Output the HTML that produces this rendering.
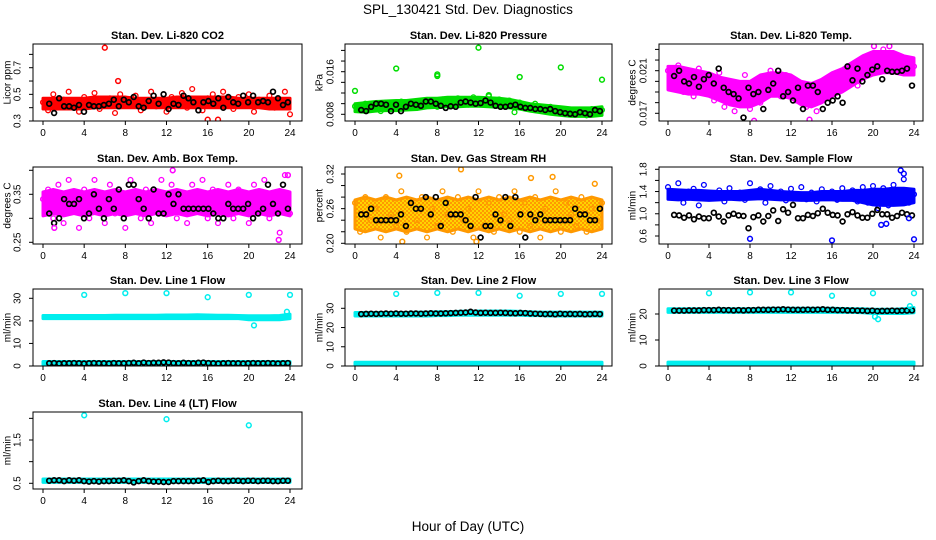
<!DOCTYPE html>
<html><head><meta charset="utf-8">
<style>
html,body{margin:0;padding:0;background:#fff;}
svg{display:block;font-family:"Liberation Sans",sans-serif;}
</style></head>
<body>
<svg id="chart" width="936" height="540" viewBox="0 0 936 540" xmlns="http://www.w3.org/2000/svg">
<defs>
<pattern id="rhpat" patternUnits="userSpaceOnUse" width="4" height="4">
<rect width="4" height="4" fill="#ffd400"/>
<circle cx="1" cy="1" r="1" fill="#ff8800"/>
<circle cx="3" cy="3" r="1" fill="#ff8800"/>
</pattern>
</defs>
<rect width="936" height="540" fill="#fff"/>
<text x="468" y="14" text-anchor="middle" font-size="13.5">SPL_130421  Std. Dev. Diagnostics</text>
<text x="468" y="531" text-anchor="middle" font-size="13.5">Hour of Day (UTC)</text>
</svg>
<script>
// ---------- data ----------
const xTicks = [0,4,8,12,16,20,24];

const co2Lo = [0.39,0.39,0.39,0.39,0.39,0.40,0.40,0.40,0.40,0.40,0.40,0.40,0.40,0.40,0.40,0.40,0.40,0.40,0.40,0.40,0.40,0.40,0.39,0.39,0.39];
const co2Hi = [0.47,0.47,0.47,0.47,0.47,0.48,0.48,0.48,0.48,0.47,0.47,0.47,0.47,0.48,0.48,0.48,0.48,0.48,0.48,0.47,0.47,0.47,0.47,0.47,0.47];
const co2Pts = [0.44,0.38,0.50,0.42,0.46,0.52,0.40,0.37,0.48,0.44,0.51,0.39,0.43,0.47,0.36,0.50,0.42,0.45,0.49,0.38,0.44,0.52,0.41,0.46,0.37,0.48,0.43,0.51,0.40,0.54,0.44,0.38,0.47,0.50,0.42,0.52,0.45,0.39,0.48,0.43,0.50,0.37,0.46,0.44,0.49,0.40,0.45,0.52,0.35];
const co2Black = [0.43,0.36,0.47,0.41,0.41,0.40,0.42,0.37,0.42,0.41,0.41,0.42,0.43,0.46,0.41,0.46,0.44,0.48,0.41,0.40,0.45,0.49,0.43,0.50,0.39,0.43,0.42,0.49,0.47,0.44,0.38,0.44,0.45,0.43,0.47,0.40,0.48,0.44,0.43,0.49,0.44,0.49,0.44,0.45,0.44,0.52,0.47,0.42,0.44];
const co2OutH = [6,7.3,16,17];
const co2OutV = [0.85,0.60,0.31,0.31];

const presLo = [0.0085,0.0084,0.0086,0.0087,0.0087,0.0088,0.0089,0.0092,0.0093,0.0094,0.0094,0.0095,0.0095,0.0094,0.0093,0.0092,0.0090,0.0086,0.0083,0.0080,0.0078,0.0076,0.0076,0.0076,0.0078];
const presHi = [0.0100,0.0102,0.0104,0.0105,0.0106,0.0106,0.0108,0.0110,0.0110,0.0112,0.0112,0.0112,0.0112,0.0111,0.0110,0.0108,0.0104,0.0100,0.0098,0.0096,0.0094,0.0092,0.0092,0.0092,0.0094];
const presPts = [0.0095,0.0088,0.0100,0.0092,0.0098,0.0086,0.0102,0.0094,0.0090,0.0104,0.0096,0.0100,0.0092,0.0106,0.0098,0.0102,0.0094,0.0108,0.0100,0.0096,0.0110,0.0104,0.0098,0.0112,0.0106,0.0100,0.0114,0.0104,0.0108,0.0098,0.0106,0.0084,0.0102,0.0096,0.0090,0.0100,0.0092,0.0088,0.0094,0.0086,0.0090,0.0082,0.0088,0.0080,0.0086,0.0078,0.0090,0.0084,0.0088];
const presBlack = [0.0088,0.0086,0.0094,0.0100,0.0100,0.0098,0.0086,0.0098,0.0086,0.0094,0.0100,0.0098,0.0096,0.0104,0.0104,0.0100,0.0096,0.0092,0.0095,0.0094,0.0102,0.0104,0.0102,0.0100,0.0101,0.0106,0.0102,0.0096,0.0094,0.0094,0.0096,0.0098,0.0094,0.0092,0.0092,0.0090,0.0090,0.0088,0.0090,0.0086,0.0084,0.0082,0.0081,0.0080,0.0084,0.0082,0.0080,0.0088,0.0086];
const presOutH = [0,4,8,8,12,13,16,20,24];
const presOutV = [0.0124,0.0166,0.0155,0.0152,0.0205,0.0116,0.0150,0.0168,0.0145];

const tempLo = [0.0192,0.0190,0.0188,0.0188,0.0186,0.0182,0.0178,0.0176,0.0176,0.0180,0.0186,0.0186,0.0184,0.0178,0.0176,0.0180,0.0186,0.0190,0.0196,0.0202,0.0206,0.0208,0.0208,0.0206,0.0206];
const tempHi = [0.0214,0.0214,0.0212,0.0210,0.0208,0.0204,0.0202,0.0200,0.0200,0.0206,0.0208,0.0208,0.0206,0.0200,0.0198,0.0202,0.0208,0.0212,0.0218,0.0224,0.0228,0.0228,0.0228,0.0224,0.0222];
const tempPts = [0.0210,0.0198,0.0215,0.0190,0.0206,0.0186,0.0212,0.0196,0.0202,0.0182,0.0208,0.0176,0.0200,0.0172,0.0186,0.0206,0.0174,0.0196,0.0180,0.0190,0.0210,0.0196,0.0186,0.0206,0.0200,0.0182,0.0192,0.0176,0.0188,0.0172,0.0184,0.0196,0.0190,0.0204,0.0210,0.0200,0.0214,0.0196,0.0220,0.0208,0.0226,0.0214,0.0230,0.0220,0.0226,0.0212,0.0222,0.0218,0.0214];
const tempBlack = [0.0205,0.0210,0.0200,0.0198,0.0204,0.0195,0.0202,0.0206,0.0198,0.0212,0.0194,0.0190,0.0188,0.0184,0.0166,0.0194,0.0188,0.0190,0.0174,0.0192,0.0198,0.0210,0.0186,0.0190,0.0182,0.0194,0.0174,0.0196,0.0196,0.0190,0.0174,0.0180,0.0182,0.0186,0.0180,0.0214,0.0201,0.0212,0.0200,0.0206,0.0211,0.0214,0.0202,0.0210,0.0209,0.0209,0.0210,0.0212,0.0196];
const tempOutH = [8.4,13.8,20.1,21.6];
const tempOutV = [0.0163,0.0164,0.0233,0.0233];

const ambLo = [0.305,0.31,0.305,0.31,0.305,0.31,0.305,0.31,0.305,0.31,0.305,0.31,0.305,0.31,0.305,0.31,0.305,0.31,0.305,0.31,0.305,0.31,0.305,0.31,0.305];
const ambHi = [0.355,0.36,0.355,0.36,0.355,0.36,0.355,0.36,0.355,0.36,0.355,0.36,0.355,0.36,0.355,0.36,0.355,0.36,0.355,0.36,0.355,0.36,0.355,0.36,0.355];
const ambPts = [0.34,0.36,0.30,0.37,0.29,0.38,0.33,0.28,0.36,0.30,0.38,0.34,0.29,0.37,0.31,0.35,0.28,0.38,0.33,0.30,0.36,0.29,0.34,0.38,0.31,0.37,0.30,0.35,0.29,0.37,0.32,0.38,0.30,0.36,0.29,0.34,0.37,0.30,0.36,0.33,0.29,0.37,0.31,0.38,0.30,0.34,0.27,0.39,0.31];
const ambBlack = [0.31,0.29,0.30,0.34,0.33,0.33,0.34,0.30,0.31,0.35,0.32,0.30,0.34,0.32,0.36,0.30,0.37,0.37,0.34,0.32,0.30,0.36,0.31,0.31,0.35,0.33,0.35,0.32,0.32,0.32,0.32,0.32,0.32,0.31,0.30,0.30,0.33,0.32,0.32,0.32,0.33,0.30,0.31,0.32,0.37,0.33,0.31,0.37,0.32];
const ambOutH = [12.6,22.9,23.8,1.1];
const ambOutV = [0.40,0.255,0.39,0.28];

const rhLo = [0.225,0.22,0.225,0.22,0.225,0.22,0.225,0.22,0.225,0.22,0.225,0.22,0.225,0.22,0.225,0.22,0.225,0.22,0.225,0.22,0.225,0.22,0.225,0.22,0.225];
const rhHi = [0.275,0.28,0.275,0.28,0.275,0.28,0.275,0.28,0.275,0.28,0.275,0.28,0.275,0.28,0.275,0.28,0.275,0.28,0.275,0.28,0.275,0.28,0.275,0.28,0.275];
const rhPts = [0.27,0.22,0.28,0.24,0.26,0.21,0.28,0.25,0.23,0.29,0.22,0.27,0.24,0.28,0.21,0.26,0.23,0.29,0.25,0.22,0.28,0.24,0.26,0.21,0.29,0.23,0.27,0.22,0.28,0.25,0.24,0.29,0.22,0.27,0.23,0.28,0.21,0.26,0.24,0.29,0.22,0.27,0.25,0.23,0.28,0.22,0.26,0.24,0.27];
const rhBlack = [0.25,0.25,0.26,0.24,0.24,0.24,0.24,0.24,0.25,0.23,0.27,0.26,0.26,0.28,0.25,0.28,0.23,0.27,0.25,0.25,0.25,0.24,0.23,0.28,0.21,0.23,0.23,0.25,0.24,0.28,0.23,0.28,0.25,0.21,0.25,0.24,0.25,0.24,0.24,0.24,0.24,0.24,0.24,0.26,0.25,0.25,0.24,0.24,0.26];
const rhOutH = [4.3,4.6,10.3,11.8,17.1,19.2,23.3];
const rhOutV = [0.317,0.203,0.328,0.203,0.313,0.315,0.303];

const flowLo = [1.26,1.25,1.26,1.25,1.24,1.25,1.26,1.25,1.26,1.27,1.26,1.25,1.25,1.24,1.24,1.25,1.25,1.24,1.24,1.20,1.16,1.15,1.15,1.16,1.20];
const flowHi = [1.44,1.43,1.42,1.42,1.41,1.40,1.40,1.40,1.42,1.44,1.42,1.40,1.39,1.38,1.38,1.40,1.40,1.40,1.42,1.42,1.44,1.44,1.46,1.46,1.44];
const flowPts = [1.48,1.30,1.55,1.20,1.40,1.45,1.15,1.52,1.35,1.28,1.42,1.22,1.46,1.30,1.38,1.25,1.55,1.32,1.44,1.20,1.50,1.30,1.40,1.24,1.45,1.32,1.48,1.26,1.38,1.22,1.44,1.30,1.40,1.25,1.46,1.28,1.42,1.22,1.48,1.20,1.50,1.10,1.46,1.15,1.52,1.30,1.62,1.20,1.35];
const flowBlack = [0.98,0.97,0.93,0.97,0.90,0.95,0.92,0.92,1.02,0.95,0.86,0.97,1.00,0.97,0.96,0.74,0.94,0.97,0.86,0.96,1.06,0.87,1.08,1.02,1.16,0.92,0.92,0.98,0.96,1.01,1.09,1.02,0.98,0.97,0.86,0.99,1.03,0.97,0.93,0.93,1.00,1.07,0.99,0.99,0.93,0.96,1.02,0.99,0.97];
const flowOutH = [8,16,24,22.7,23,20.8,21.3,23.5];
const flowOutV = [0.55,0.52,0.54,1.78,1.72,0.80,0.82,0.92];

const l1Lo = [21,21,21,21,21,21,21,21,21,21,21,21,21,21,21,21,21,21,21,21,20.5,20.5,20.5,20.5,21];
const l1Hi = [22.4,22.4,22.4,22.4,22.4,22.4,22.4,22.5,22.5,22.5,22.5,22.5,22.6,22.6,22.6,22.7,22.6,22.5,22.5,22.4,22.3,22.3,22.3,22.4,23];
const l1LowLo = [0.6,0.6,0.6,0.6,0.6,0.6,0.6,0.6,0.6,0.6,0.6,0.6,0.6,0.6,0.6,0.6,0.6,0.6,0.6,0.6,0.6,0.6,0.6,0.6,0.6];
const l1LowHi = [2,2,2,2,2,2,2,2,2,2,2,2,2,2,2,2,2,2,2,2,2,2,2,2,2];
const l1Black = [1.2,1.3,1.1,1.2,1.2,1.3,1.2,1.1,1.2,1.3,1.2,1.2,1.1,1.3,1.2,1.2,1.3,1.4,1.2,1.5,1.3,1.4,1.4,1.6,1.5,1.3,1.2,1.4,1.3,1.2,1.4,1.5,1.3,1.2,1.1,1.2,1.3,1.2,1.2,1.1,1.2,1.3,1.2,1.2,1.3,1.2,1.1,1.2,1.3];
const l1OutH = [4,8,12,16,20,24,20.5,23.7];
const l1OutV = [31.5,32.3,32.3,30.5,31.5,31.5,18,24];

const l2Lo = [26,26,26,26,26,26,26,26,26.2,26.2,26.4,26.4,26.4,26.4,26.4,26.4,26.4,26.2,26.2,26,26,26,26,26,26];
const l2Hi = [27.8,27.8,27.8,27.8,27.8,27.8,28,28,28.2,28.2,28.4,28.6,28.6,28.6,28.6,28.6,28.4,28.2,28,28,28,28,28,28,28];
const l2LowLo = [0.6,0.6,0.6,0.6,0.6,0.6,0.6,0.6,0.6,0.6,0.6,0.6,0.6,0.6,0.6,0.6,0.6,0.6,0.6,0.6,0.6,0.6,0.6,0.6,0.6];
const l2LowHi = [2,2,2,2,2,2,2,2,2,2,2,2,2,2,2,2,2,2,2,2,2,2,2,2,2];
const l2Black = [27,27.1,27.2,27.1,27.2,27.3,27.2,27.3,27.2,27.2,27.3,27.3,27.2,27.3,27.4,27.3,27.3,27.4,27.5,27.6,27.7,27.8,28.2,27.8,27.6,27.7,27.6,27.6,27.7,27.6,27.5,27.4,27.6,27.5,27.3,27.2,27.1,27,27.1,26.9,27.2,27,27.1,27,27.1,26.9,27,27.1,27];
const l2OutH = [4,8,12,16,20,24];
const l2OutV = [37.5,38,38,36.5,37.5,37.5];

const l3Lo = [20.6,20.6,20.6,20.6,20.6,20.6,20.6,20.6,20.6,20.6,20.6,20.6,20.6,20.6,20.6,20.6,20.6,20.6,20.6,20.5,20.2,20.2,20.2,20.2,20.5];
const l3Hi = [22,22,22,22,22,22,22,22,22,22.1,22.2,22.2,22.2,22.2,22.2,22.2,22.2,22.1,22,22,21.8,21.8,21.8,22,22.5];
const l3LowLo = [0.5,0.5,0.5,0.5,0.5,0.5,0.5,0.5,0.5,0.5,0.5,0.5,0.5,0.5,0.5,0.5,0.5,0.5,0.5,0.5,0.5,0.5,0.5,0.5,0.5];
const l3LowHi = [1.5,1.5,1.5,1.5,1.5,1.5,1.5,1.5,1.5,1.5,1.5,1.5,1.5,1.5,1.5,1.5,1.5,1.5,1.5,1.5,1.5,1.5,1.5,1.5,1.5];
const l3Black = [21.3,21.3,21.3,21.4,21.4,21.4,21.5,21.5,21.5,21.6,21.5,21.5,21.4,21.5,21.4,21.5,21.5,21.6,21.6,21.6,21.7,21.7,21.8,21.7,21.6,21.6,21.6,21.7,21.6,21.7,21.8,21.6,21.6,21.5,21.5,21.4,21.4,21.3,21.3,21.2,21.3,21.1,21.2,21.2,21.3,21.2,21.3,21.3,21.4];
const l3OutH = [4,8,12,16,20,24,20.2,20.5,23.6];
const l3OutV = [28,28.3,28.3,27,28,28,19,18,23];

const l4Lo = [0.52,0.52,0.52,0.52,0.52,0.52,0.52,0.52,0.52,0.52,0.52,0.52,0.52,0.52,0.52,0.52,0.52,0.52,0.52,0.52,0.52,0.52,0.52,0.52,0.52];
const l4Hi = [0.60,0.60,0.60,0.60,0.60,0.60,0.60,0.60,0.60,0.60,0.60,0.60,0.60,0.60,0.60,0.60,0.60,0.60,0.60,0.60,0.60,0.60,0.60,0.60,0.60];
const l4Black = [0.56,0.57,0.57,0.55,0.57,0.56,0.57,0.55,0.54,0.55,0.54,0.55,0.55,0.56,0.56,0.57,0.55,0.52,0.55,0.57,0.55,0.54,0.54,0.53,0.53,0.55,0.55,0.55,0.55,0.55,0.56,0.57,0.53,0.55,0.56,0.55,0.55,0.56,0.56,0.55,0.56,0.56,0.55,0.56,0.56,0.55,0.55,0.56,0.56];
const l4OutH = [4,12,20];
const l4OutV = [2.07,1.98,1.84];

// ---------- layout ----------
const cols = [{l:33,r:302,x0:43,x24:290,lab:17,tit:7},{l:345,r:612,x0:355,x24:602,lab:330,tit:319},{l:659,r:923,x0:668,x24:914,lab:643,tit:632}];
const rows = [{t:44,b:121},{t:167,b:244},{t:289,b:366},{t:412,b:489}];

const panels = [
 {c:0,r:0,name:'co2',title:'Stan. Dev. Li-820 CO2',ylab:'Licor ppm',ref:[0.3,121,0.7,67.7],ticks:[0.3,0.4,0.5,0.6,0.7,0.8],labels:[0.3,0.5,0.7],fmt:1,color:'#ff0000',bands:[[co2Lo,co2Hi]],pts:co2Pts,black:co2Black,outH:co2OutH,outV:co2OutV},
 {c:1,r:0,name:'pressure',title:'Stan. Dev. Li-820 Pressure',ylab:'kPa',ref:[0.008,114.3,0.016,71.7],ticks:[0.008,0.010,0.012,0.014,0.016,0.018,0.020],labels:[0.008,0.016],fmt:3,color:'#00dd00',bands:[[presLo,presHi]],pts:presPts,black:presBlack,outH:presOutH,outV:presOutV},
 {c:2,r:0,name:'temp',title:'Stan. Dev. Li-820 Temp.',ylab:'degrees C',ref:[0.017,113.3,0.021,70.7],ticks:[0.017,0.018,0.019,0.020,0.021,0.022,0.023],labels:[0.017,0.021],fmt:3,color:'#ff00ff',bands:[[tempLo,tempHi]],pts:tempPts,black:tempBlack,outH:tempOutH,outV:tempOutV},
 {c:0,r:1,name:'amb-box-temp',title:'Stan. Dev. Amb. Box Temp.',ylab:'degrees C',ref:[0.25,242.3,0.35,194.3],ticks:[0.25,0.30,0.35,0.40],labels:[0.25,0.35],fmt:2,color:'#ff00ff',bands:[[ambLo,ambHi]],pts:ambPts,black:ambBlack,outH:ambOutH,outV:ambOutV},
 {c:1,r:1,name:'gas-rh',title:'Stan. Dev. Gas Stream RH',ylab:'percent',ref:[0.20,243.3,0.32,174],ticks:[0.20,0.22,0.24,0.26,0.28,0.30,0.32],labels:[0.20,0.26,0.32],fmt:2,color:'#ff9900',fill:'url(#rhpat)',bands:[[rhLo,rhHi]],pts:rhPts,black:rhBlack,outH:rhOutH,outV:rhOutV},
 {c:2,r:1,name:'sample-flow',title:'Stan. Dev. Sample Flow',ylab:'ml/min',ref:[0.6,236,1.8,169.3],ticks:[0.6,0.8,1.0,1.2,1.4,1.6,1.8],labels:[0.6,1.0,1.4,1.8],fmt:1,color:'#0000ff',bands:[[flowLo,flowHi]],pts:flowPts,black:flowBlack,outH:flowOutH,outV:flowOutV},
 {c:0,r:2,name:'line1-flow',title:'Stan. Dev. Line 1 Flow',ylab:'ml/min',ref:[0,366,30,298.3],ticks:[0,10,20,30],labels:[0,10,20,30],fmt:0,color:'#00eeee',bands:[[l1Lo,l1Hi],[l1LowLo,l1LowHi]],pts:null,black:l1Black,outH:l1OutH,outV:l1OutV},
 {c:1,r:2,name:'line2-flow',title:'Stan. Dev. Line 2 Flow',ylab:'ml/min',ref:[0,366,30,308.3],ticks:[0,10,20,30],labels:[0,10,20,30],fmt:0,color:'#00eeee',bands:[[l2Lo,l2Hi],[l2LowLo,l2LowHi]],pts:null,black:l2Black,outH:l2OutH,outV:l2OutV},
 {c:2,r:2,name:'line3-flow',title:'Stan. Dev. Line 3 Flow',ylab:'ml/min',ref:[0,366,20,314],ticks:[0,10,20],labels:[0,10,20],fmt:0,color:'#00eeee',bands:[[l3Lo,l3Hi],[l3LowLo,l3LowHi]],pts:null,black:l3Black,outH:l3OutH,outV:l3OutV},
 {c:0,r:3,name:'line4-flow',title:'Stan. Dev. Line 4 (LT) Flow',ylab:'ml/min',ref:[0.5,483.3,1.5,440],ticks:[0.5,1.0,1.5,2.0],labels:[0.5,1.5],fmt:1,color:'#00eeee',bands:[[l4Lo,l4Hi]],pts:null,black:l4Black,outH:l4OutH,outV:l4OutV}
];

const NS='http://www.w3.org/2000/svg';
const svg=document.getElementById('chart');
function mk(tag,attrs,parent){const e=document.createElementNS(NS,tag);for(const k in attrs)e.setAttribute(k,attrs[k]);parent.appendChild(e);return e;}

panels.forEach(p=>{
  const C=cols[p.c], R=rows[p.r];
  const g=mk('g',{},svg);
  
  
  const xs=h=>C.x0+(C.x24-C.x0)*h/24;
  const ys=v=>p.ref[1]+(v-p.ref[0])*(p.ref[3]-p.ref[1])/(p.ref[2]-p.ref[0]);
  const clip='clip-'+p.name;
  const cp=mk('clipPath',{id:clip},g);
  mk('rect',{x:C.l,y:R.t,width:C.r-C.l,height:R.b-R.t},cp);
  const plot=mk('g',{'clip-path':'url(#'+clip+')'},g);
  
  
  p.bands.forEach((b,bi)=>{
    const lo=b[0],hi=b[1],n=lo.length;
    let d='';
    for(let i=0;i<n;i++){d+=(i?'L':'M')+xs(i*24/(n-1)).toFixed(1)+' '+ys(hi[i]).toFixed(1);}
    for(let i=n-1;i>=0;i--){d+='L'+xs(i*24/(n-1)).toFixed(1)+' '+ys(lo[i]).toFixed(1);}
    d+='Z';
    const path=mk('path',{d:d,fill:p.fill||p.color,stroke:p.color,'stroke-width':3,'stroke-linejoin':'round'},plot);
    
    
  });
  function circ(x,y,col,sw,nm){
    const c=mk('circle',{cx:x.toFixed(1),cy:y.toFixed(1),r:2.4,fill:'none',stroke:col,'stroke-width':sw},plot);
    
    
  }
  if(p.pts){const n=p.pts.length;p.pts.forEach((v,i)=>circ(xs(i*24/(n-1)),ys(v),p.color,1.3,p.name+'-point'));}
  {const n=p.black.length;p.black.forEach((v,i)=>circ(xs(0.6+i*23.2/(n-1)),ys(v),'#000',1.7,p.name+'-reference-point'));}
  p.outH.forEach((h,i)=>circ(xs(h),ys(p.outV[i]),p.color,1.5,p.name+'-outlier'));
  const box=mk('rect',{x:C.l,y:R.t,width:C.r-C.l,height:R.b-R.t,fill:'none',stroke:'#000','stroke-width':1},g);
  
  
  const t=mk('text',{x:(C.l+C.r)/2,y:R.t-5,'text-anchor':'middle','font-size':11,'font-weight':'bold'},g);
  t.textContent=p.title;
  
  
  const xa=mk('g',{},g);
  
  
  mk('line',{x1:xs(0),x2:xs(24),y1:R.b,y2:R.b,stroke:'#000'},xa);
  xTicks.forEach(h=>{
    mk('line',{x1:xs(h),x2:xs(h),y1:R.b,y2:R.b+4,stroke:'#000'},xa);
    const tl=mk('text',{x:xs(h),y:R.b+15,'text-anchor':'middle','font-size':10},xa);
    tl.textContent=h;
    
    
  });
  const ya=mk('g',{},g);
  
  
  const tk=p.ticks;
  mk('line',{x1:C.l,x2:C.l,y1:ys(tk[0]),y2:ys(tk[tk.length-1]),stroke:'#000'},ya);
  tk.forEach(v=>mk('line',{x1:C.l-4,x2:C.l,y1:ys(v),y2:ys(v),stroke:'#000'},ya));
  p.labels.forEach(v=>{
    const yy=ys(v);
    const tl=mk('text',{x:C.lab,y:yy,'text-anchor':'middle','font-size':10,transform:'rotate(-90 '+C.lab+' '+yy+')',dy:'0.35em'},ya);
    tl.textContent=v.toFixed(p.fmt);
    
    
  });
  const ym=(R.t+R.b)/2;
  const yt=mk('text',{x:C.tit,y:ym,'text-anchor':'middle','font-size':10,transform:'rotate(-90 '+C.tit+' '+ym+')',dy:'0.35em'},ya);
  yt.textContent=p.ylab;
  
  
});
</script>
</body></html>
